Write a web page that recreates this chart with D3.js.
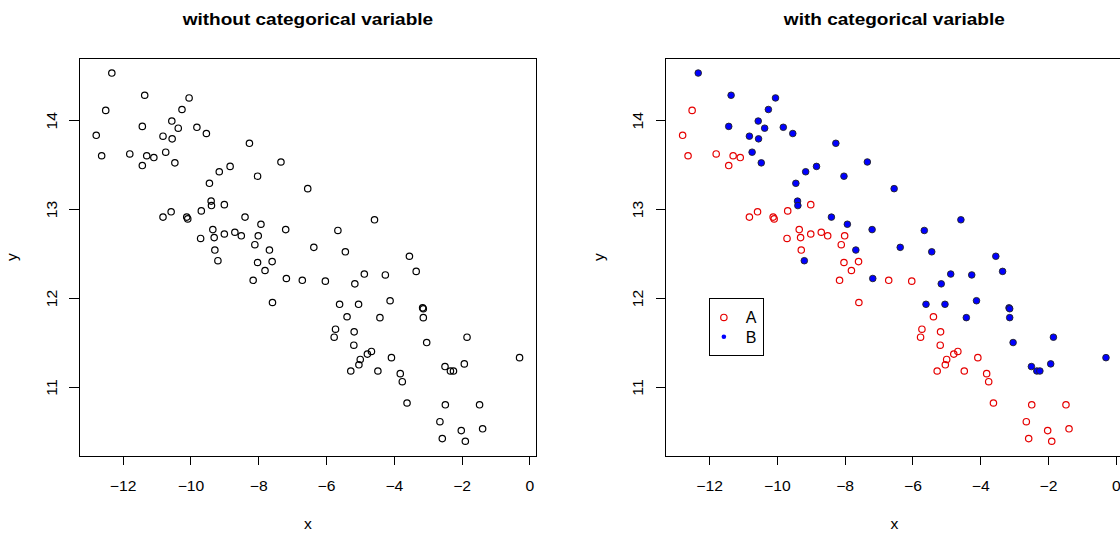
<!DOCTYPE html>
<html>
<head>
<meta charset="utf-8">
<script src="https://cdn.jsdelivr.net/npm/d3@7"></script>
<style>
  body { margin: 0; background: #fff; }
  svg { display: block; }
  text { font-family: "Liberation Sans", Arial, Helvetica, sans-serif; fill: #000; }
</style>
</head>
<body>
<svg id="chart" width="1120" height="533"></svg>
<script>
// Group A observations
const groupA_x = [-12.50,-12.78,-12.62,-11.79,-11.29,-11.08,-11.42,-9.00,-10.81,-10.57,-10.11,-10.08,-9.68,-9.34,-9.30,-9.70,-9.00,-8.69,-8.50,-8.00,-8.10,-9.28,-8.02,-7.59,-7.80,-8.15,-6.70,-7.58,-6.02,-5.38,-5.72,-5.76,-5.17,-5.18,-4.66,-4.78,-4.99,-4.07,-5.03,-5.27,-4.47,-3.81,-3.75,-3.61,-2.48,-1.47,-2.64,-2.01,-1.38,-2.57,-1.89];
const groupA_y = [14.11,13.83,13.60,13.62,13.60,13.58,13.49,13.05,12.91,12.97,12.91,12.89,12.98,12.77,12.68,12.67,12.72,12.74,12.70,12.70,12.60,12.54,12.40,12.41,12.31,12.20,12.20,11.95,12.19,11.79,11.65,11.56,11.62,11.47,11.40,11.37,11.31,11.33,11.25,11.18,11.18,11.15,11.06,10.82,10.80,10.80,10.61,10.51,10.53,10.42,10.39];
// Group B observations
const groupB_x = [-12.32,-11.35,-10.04,-10.25,-10.55,-11.42,-10.36,-9.81,-9.53,-10.81,-10.54,-8.26,-10.73,-10.46,-7.33,-9.15,-8.83,-8.02,-9.44,-6.54,-9.39,-9.38,-8.39,-7.92,-7.19,-7.67,-6.36,-4.57,-5.65,-5.43,-3.54,-9.19,-7.17,-5.15,-4.87,-4.25,-3.34,-5.60,-5.04,-4.11,-3.15,-3.13,-4.41,-3.13,-1.84,-3.03,-0.29,-2.49,-2.33,-2.24,-1.92];
const groupB_y = [14.53,14.28,14.25,14.12,13.99,13.93,13.91,13.92,13.85,13.82,13.79,13.74,13.64,13.52,13.53,13.42,13.48,13.37,13.29,13.23,13.09,13.04,12.91,12.83,12.77,12.54,12.57,12.88,12.76,12.52,12.47,12.42,12.22,12.16,12.27,12.26,12.30,11.93,11.93,11.97,11.89,11.88,11.78,11.78,11.56,11.50,11.33,11.23,11.18,11.18,11.26];

const xTicks = [-12, -10, -8, -6, -4, -2, 0];
const yTicks = [11, 12, 13, 14];
const panelTitles = ["without categorical variable", "with categorical variable"];
const groupNames = ["A", "B"];
const groupColors = ["#e60000", "blue"];

const pointsA = groupA_x.map((x, i) => ({ x, y: groupA_y[i], g: 0 }));
const pointsB = groupB_x.map((x, i) => ({ x, y: groupB_y[i], g: 1 }));
const allPoints = pointsA.concat(pointsB);

// plot region of one panel
const box = { left: 79.3, right: 536.5, top: 58.3, bottom: 456 };
const panelShift = 586.4;
const stretch = 1.12;

// axis limits padded by 4% on each side
function padded(vals) {
  const [lo, hi] = d3.extent(vals);
  const p = (hi - lo) * 0.04;
  return [lo - p, hi + p];
}
const x = d3.scaleLinear().domain(padded(allPoints.map(d => d.x))).range([box.left, box.right]);
const y = d3.scaleLinear().domain(padded(allPoints.map(d => d.y))).range([box.bottom, box.top]);

const svg = d3.select("#chart");
svg.append("rect").attr("width", 1120).attr("height", 533).attr("fill", "#fff");

function drawPanel(index) {
  const g = svg.append("g").attr("transform", `translate(${index * panelShift},0)`);
  const cx = (box.left + box.right) / 2;

  // title
  g.append("text")
    .attr("transform", `translate(${cx},25) scale(${stretch},1)`)
    .attr("text-anchor", "middle")
    .attr("font-weight", "bold")
    .attr("font-size", 17)
    .text(panelTitles[index]);

  // x axis
  const xAxis = g.append("g")
    .attr("transform", `translate(0,${box.bottom})`)
    .call(d3.axisBottom(x).tickValues(xTicks).tickSize(9).tickFormat(d3.format("d")));
  xAxis.select(".domain").remove();
  xAxis.selectAll(".tick line").attr("stroke", "#000").attr("shape-rendering", "crispEdges");
  xAxis.selectAll(".tick text")
    .attr("y", 0).attr("dy", null)
    .attr("transform", `translate(0,34.6) scale(${stretch},1)`)
    .attr("font-size", 14).attr("font-family", null).attr("fill", "#000");

  // y axis
  const yAxis = g.append("g")
    .attr("transform", `translate(${box.left},0)`)
    .call(d3.axisLeft(y).tickValues(yTicks).tickSize(10).tickFormat(d3.format("d")));
  yAxis.select(".domain").remove();
  yAxis.selectAll(".tick line").attr("stroke", "#000").attr("shape-rendering", "crispEdges");
  yAxis.selectAll(".tick text")
    .attr("x", 0).attr("dy", null)
    .attr("text-anchor", "middle")
    .attr("transform", `translate(-22.6,0) rotate(-90) scale(${stretch},1)`)
    .attr("font-size", 14).attr("font-family", null).attr("fill", "#000");

  // axis titles
  g.append("text")
    .attr("transform", `translate(${cx},528.5) scale(${stretch},1)`)
    .attr("text-anchor", "middle").attr("font-size", 14).text("x");
  g.append("text")
    .attr("transform", `translate(17.3,${(box.top + box.bottom) / 2}) rotate(-90) scale(${stretch},1)`)
    .attr("text-anchor", "middle").attr("font-size", 14).text("y");

  // points
  const pts = g.append("g");
  if (index === 0) {
    pts.selectAll("circle").data(allPoints).join("circle")
      .attr("cx", d => x(d.x)).attr("cy", d => y(d.y)).attr("r", 3.2)
      .attr("fill", "none").attr("stroke", "#000").attr("stroke-width", 1.2);
  } else {
    pts.selectAll("circle.a").data(pointsA).join("circle").attr("class", "a")
      .attr("cx", d => x(d.x)).attr("cy", d => y(d.y)).attr("r", 3.2)
      .attr("fill", "none").attr("stroke", groupColors[0]).attr("stroke-width", 1.2);
    pts.selectAll("circle.b").data(pointsB).join("circle").attr("class", "b")
      .attr("cx", d => x(d.x)).attr("cy", d => y(d.y)).attr("r", 3.3)
      .attr("fill", groupColors[1]).attr("stroke", "#222").attr("stroke-width", 0.9);

    // legend anchored at (-12, 12)
    const lx = x(-12), ly = y(12);
    const lg = g.append("g").attr("transform", `translate(${lx},${ly})`);
    lg.append("rect").attr("width", 54).attr("height", 57.7)
      .attr("fill", "#fff").attr("stroke", "#000").attr("stroke-width", 1)
      .attr("shape-rendering", "crispEdges");
    groupNames.forEach((name, i) => {
      const ry = 19.4 + i * 19.3;
      if (i === 0) {
        lg.append("circle").attr("cx", 14.8).attr("cy", ry).attr("r", 3.2)
          .attr("fill", "none").attr("stroke", groupColors[0]).attr("stroke-width", 1.2);
      } else {
        lg.append("circle").attr("cx", 14.8).attr("cy", ry).attr("r", 2.3)
          .attr("fill", groupColors[1]);
      }
      lg.append("text").attr("x", 36.7).attr("y", ry + 6).attr("font-size", 16).text(name);
    });
  }

  // plot frame
  g.append("rect")
    .attr("x", box.left).attr("y", box.top)
    .attr("width", box.right - box.left).attr("height", box.bottom - box.top)
    .attr("fill", "none").attr("stroke", "#000").attr("stroke-width", 1)
    .attr("shape-rendering", "crispEdges");
}

drawPanel(0);
drawPanel(1);
</script>
</body>
</html>
